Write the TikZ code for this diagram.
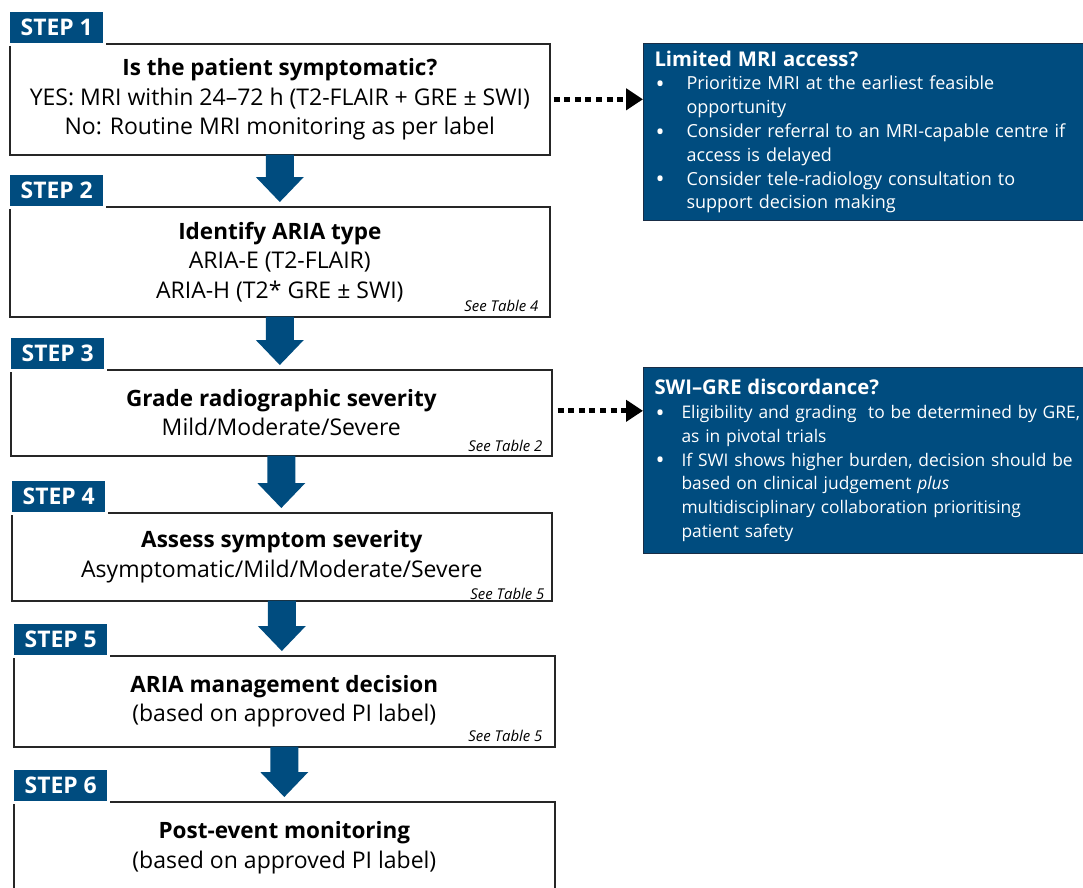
\documentclass[tikz,border=0pt]{standalone}
\usepackage{fontspec}
\setmainfont{Open Sans}
\usetikzlibrary{arrows.meta,calc}
\definecolor{navy}{RGB}{0,76,127}
\definecolor{navyedge}{RGB}{25,45,70}
\newcommand\mainfs{\fontsize{23}{29.5}\selectfont}
\newcommand\titlefs{\fontsize{22.5}{29.5}\selectfont\bfseries}
\newcommand\labelfs{\fontsize{22.9}{24}\selectfont}
\newcommand\infofs{\fontsize{18}{23.8}\selectfont}
\newcommand\infofsb{\fontsize{17.4}{23.8}\selectfont}
\newcommand\infotitle{\fontsize{20.3}{23.8}\selectfont\bfseries}
\newcommand\reffs{\fontsize{14.9}{16}\selectfont}
\newcommand\bitem{\makebox[32pt][l]{\hspace{1pt}{\fontsize{24}{0}\selectfont\raisebox{-2.8pt}{•}}}}
\newcommand\bcont{\hspace*{32pt}}
\newcommand\bitemb{\makebox[27pt][l]{\hspace{1pt}{\fontsize{24}{0}\selectfont\raisebox{-2.8pt}{•}}}}
\newcommand\bcontb{\hspace*{27pt}}
\newcommand\flowarrow[2]{\fill[blockarrow] let \p1=(#1.south), \p2=(#2.north) in
  (\x1-14pt,\y1+1pt) -- (\x1+14pt,\y1+1pt) -- (\x1+14pt,\y2+29pt) -- (\x1+24pt,\y2+29pt)
  -- (\x1,\y2+4pt) -- (\x1-24pt,\y2+29pt) -- (\x1-14pt,\y2+29pt) -- cycle;}
\tikzset{
  stepbox/.style={draw=black!85, line width=1.6pt, fill=white, anchor=north west,
    inner sep=0pt, align=center, font=\mainfs},
  steplabel/.style={fill=navy, text=white, font=\bfseries\labelfs, anchor=south west,
    minimum width=93pt, minimum height=31pt, inner sep=0pt,
    preaction={draw=white, line width=6pt}},
  tableref/.style={font=\itshape\reffs, anchor=south east, inner sep=0pt},
  infobox/.style={fill=navy, draw=navyedge, line width=1pt, text=white,
    anchor=north west, align=left, font=\infofs, inner xsep=11pt, inner ysep=0pt},
  blockarrow/.style={fill=navy},
  dotarrow/.style={line width=5pt, dash pattern=on 6pt off 4.6pt,
    -{Triangle[length=17pt,width=21pt]}},
}
\begin{document}
\begin{tikzpicture}[x=1pt,y=-1pt]
\useasboundingbox (0,0) rectangle (1083,887);

% main step boxes
\node[stepbox, minimum width=540pt, minimum height=111pt] (b1) at (9,43)
  {{\titlefs Is the patient symptomatic?}\\
   YES: MRI within 24–72 h (T2-FLAIR + GRE ± SWI)\\
   No: Routine MRI monitoring as per label};
\node[stepbox, minimum width=540pt, minimum height=110pt] (b2) at (9,206)
  {{\titlefs Identify ARIA type}\\ ARIA-E (T2-FLAIR)\\ ARIA-H (T2* GRE ± SWI)};
\node[stepbox, minimum width=541pt, minimum height=86pt] (b3) at (10,369)
  {{\titlefs Grade radiographic severity}\\ Mild/Moderate/Severe};
\node[stepbox, minimum width=540pt, minimum height=88pt] (b4) at (11,512)
  {{\titlefs Assess symptom severity}\\ Asymptomatic/Mild/Moderate/Severe};
\node[stepbox, minimum width=541pt, minimum height=91pt] (b5) at (13,655)
  {{\titlefs ARIA management decision}\\ (based on approved PI label)};
\node[stepbox, minimum width=541pt, minimum height=92pt] (b6) at (13,801)
  {{\titlefs Post-event monitoring}\\ (based on approved PI label)};

% step labels
\node[steplabel] (s1) at ($(b1.north west)+(1,0)$) {STEP 1};
\node[steplabel] (s2) at ($(b2.north west)+(1,0)$) {STEP 2};
\node[steplabel] (s3) at ($(b3.north west)+(1,0)$) {STEP 3};
\node[steplabel] (s4) at ($(b4.north west)+(1,0)$) {STEP 4};
\node[steplabel] (s5) at ($(b5.north west)+(1,0)$) {STEP 5};
\node[steplabel] (s6) at ($(b6.north west)+(1,0)$) {STEP 6};

% table references
\node[tableref] (t2) at ($(b2.south east)+(-12,-6)$) {See Table 4};
\node[tableref] (t3) at ($(b3.south east)+(-10,-5)$) {See Table 2};
\node[tableref] (t4) at ($(b4.south east)+(-8,-2)$) {See Table 5};
\node[tableref] (t5) at ($(b5.south east)+(-13,-6)$) {See Table 5};

% block arrows
\flowarrow{b1}{b2}
\flowarrow{b2}{b3}
\flowarrow{b3}{b4}
\flowarrow{b4}{b5}
\flowarrow{b5}{b6}

% side boxes
\node[infobox, text width=420pt, minimum height=177pt] (r1) at (643,43)
  {{\infotitle Limited MRI access?}\\
   \bitem Prioritize MRI at the earliest feasible\\
   \bcont opportunity\\
   \bitem Consider referral to an MRI-capable centre if\\
   \bcont access is delayed\\
   \bitem Consider tele-radiology consultation to\\
   \bcont support decision making};
\node[infobox, text width=470pt, minimum height=186pt, font=\infofsb] (r2) at (643,367)
  {{\infotitle SWI–GRE discordance?}\\
   \bitemb Eligibility and grading\ \ to be determined by GRE,\\
   \bcontb as in pivotal trials\\
   \bitemb If SWI shows higher burden, decision should be\\
   \bcontb based on clinical judgement \textit{plus}\\
   \bcontb multidisciplinary collaboration prioritising\\
   \bcontb patient safety};

% dotted connectors
\coordinate (d1) at ($(b1.east)+(3,0)$);
\coordinate (d2) at ($(b3.east)+(5,-2)$);
\draw[dotarrow] (d1) -- (d1 -| r1.west);
\draw[dotarrow] (d2) -- (d2 -| r2.west);
\end{tikzpicture}
\end{document}
